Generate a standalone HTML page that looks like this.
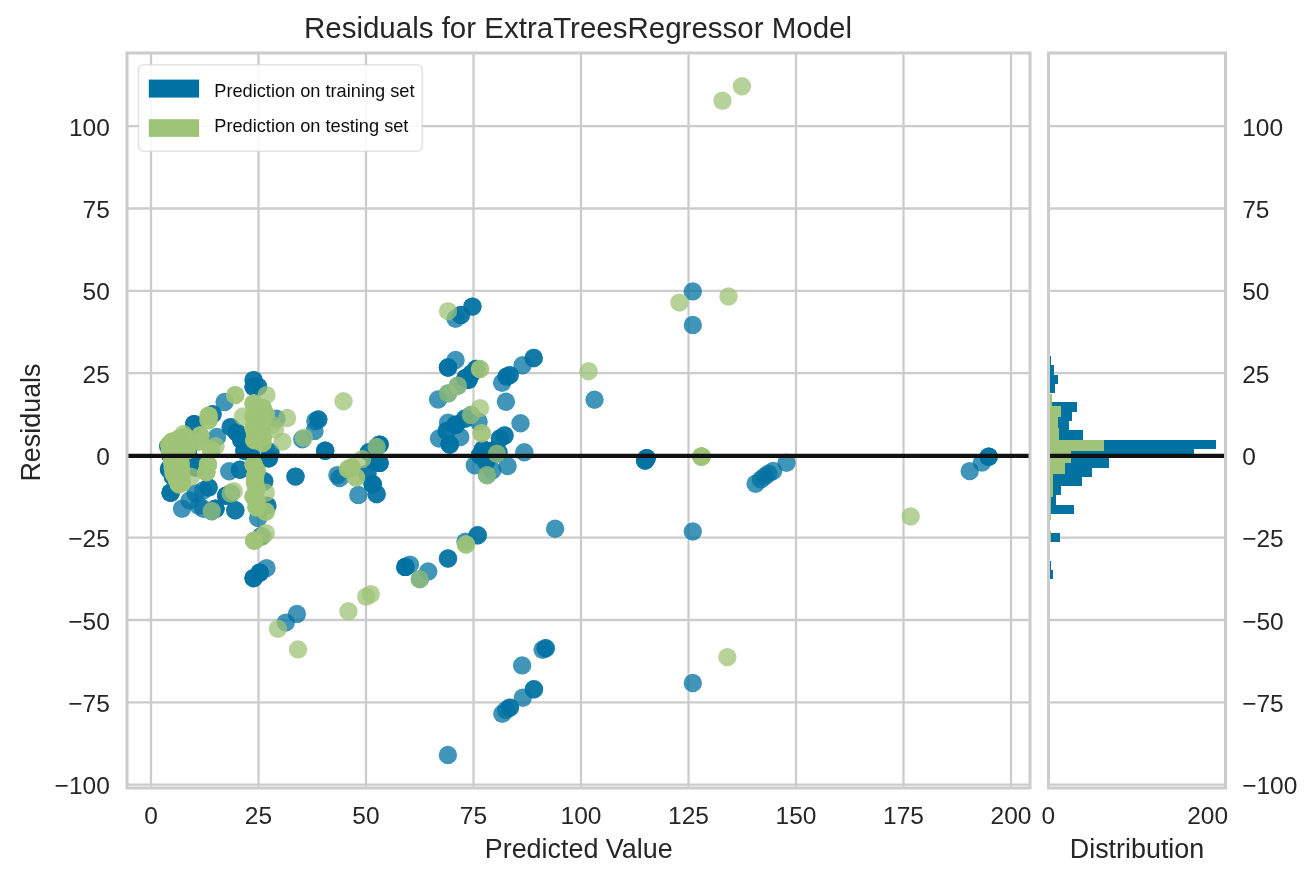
<!DOCTYPE html>
<html lang="en"><head><meta charset="utf-8"><title>Residuals for ExtraTreesRegressor Model</title>
<style>html,body{margin:0;padding:0;background:#fff}svg{display:block}text{font-family:"Liberation Sans",Arial,sans-serif;fill:#262626}</style></head><body>
<svg width="1314" height="886" viewBox="0 0 1314 886">
<rect width="1314" height="886" fill="#fff"/>
<g stroke="#cccccc" stroke-width="2.3" fill="none">
<line x1="151.0" y1="53.0" x2="151.0" y2="788.0"/>
<line x1="258.5" y1="53.0" x2="258.5" y2="788.0"/>
<line x1="366.0" y1="53.0" x2="366.0" y2="788.0"/>
<line x1="473.5" y1="53.0" x2="473.5" y2="788.0"/>
<line x1="581.0" y1="53.0" x2="581.0" y2="788.0"/>
<line x1="688.5" y1="53.0" x2="688.5" y2="788.0"/>
<line x1="796.0" y1="53.0" x2="796.0" y2="788.0"/>
<line x1="903.5" y1="53.0" x2="903.5" y2="788.0"/>
<line x1="1011.0" y1="53.0" x2="1011.0" y2="788.0"/>
<line x1="127.0" y1="784.6" x2="1030.0" y2="784.6"/>
<line x1="1048.5" y1="784.6" x2="1225.5" y2="784.6"/>
<line x1="127.0" y1="702.3" x2="1030.0" y2="702.3"/>
<line x1="1048.5" y1="702.3" x2="1225.5" y2="702.3"/>
<line x1="127.0" y1="620.0" x2="1030.0" y2="620.0"/>
<line x1="1048.5" y1="620.0" x2="1225.5" y2="620.0"/>
<line x1="127.0" y1="537.7" x2="1030.0" y2="537.7"/>
<line x1="1048.5" y1="537.7" x2="1225.5" y2="537.7"/>
<line x1="127.0" y1="455.4" x2="1030.0" y2="455.4"/>
<line x1="1048.5" y1="455.4" x2="1225.5" y2="455.4"/>
<line x1="127.0" y1="373.1" x2="1030.0" y2="373.1"/>
<line x1="1048.5" y1="373.1" x2="1225.5" y2="373.1"/>
<line x1="127.0" y1="290.8" x2="1030.0" y2="290.8"/>
<line x1="1048.5" y1="290.8" x2="1225.5" y2="290.8"/>
<line x1="127.0" y1="208.5" x2="1030.0" y2="208.5"/>
<line x1="1048.5" y1="208.5" x2="1225.5" y2="208.5"/>
<line x1="127.0" y1="126.2" x2="1030.0" y2="126.2"/>
<line x1="1048.5" y1="126.2" x2="1225.5" y2="126.2"/>
</g>
<g fill="#0272a2" fill-opacity="0.75">
<circle cx="253.6" cy="380.1" r="9.2"/>
<circle cx="253.6" cy="380.1" r="9.2"/>
<circle cx="253.6" cy="386.8" r="9.2"/>
<circle cx="253.6" cy="386.8" r="9.2"/>
<circle cx="253.6" cy="386.8" r="9.2"/>
<circle cx="258.1" cy="386.8" r="9.2"/>
<circle cx="258.1" cy="386.8" r="9.2"/>
<circle cx="224.6" cy="402.0" r="9.2"/>
<circle cx="212.5" cy="414.2" r="9.2"/>
<circle cx="212.5" cy="414.2" r="9.2"/>
<circle cx="194.2" cy="424.1" r="9.2"/>
<circle cx="194.2" cy="424.1" r="9.2"/>
<circle cx="194.2" cy="424.1" r="9.2"/>
<circle cx="217.0" cy="437.0" r="9.2"/>
<circle cx="230.7" cy="427.1" r="9.2"/>
<circle cx="230.7" cy="427.1" r="9.2"/>
<circle cx="236.8" cy="432.5" r="9.2"/>
<circle cx="236.8" cy="432.5" r="9.2"/>
<circle cx="236.8" cy="432.5" r="9.2"/>
<circle cx="241.4" cy="440.1" r="9.2"/>
<circle cx="241.4" cy="440.1" r="9.2"/>
<circle cx="241.4" cy="440.1" r="9.2"/>
<circle cx="244.4" cy="450.7" r="9.2"/>
<circle cx="244.4" cy="450.7" r="9.2"/>
<circle cx="244.4" cy="450.7" r="9.2"/>
<circle cx="250.5" cy="452.3" r="9.2"/>
<circle cx="250.5" cy="452.3" r="9.2"/>
<circle cx="250.5" cy="452.3" r="9.2"/>
<circle cx="268.8" cy="458.3" r="9.2"/>
<circle cx="268.8" cy="458.3" r="9.2"/>
<circle cx="268.8" cy="458.3" r="9.2"/>
<circle cx="270.3" cy="452.3" r="9.2"/>
<circle cx="270.3" cy="452.3" r="9.2"/>
<circle cx="276.4" cy="418.7" r="9.2"/>
<circle cx="315.3" cy="421.0" r="9.2"/>
<circle cx="318.3" cy="419.5" r="9.2"/>
<circle cx="318.3" cy="419.5" r="9.2"/>
<circle cx="314.5" cy="430.9" r="9.2"/>
<circle cx="302.3" cy="439.3" r="9.2"/>
<circle cx="325.2" cy="450.7" r="9.2"/>
<circle cx="325.2" cy="450.7" r="9.2"/>
<circle cx="325.2" cy="450.7" r="9.2"/>
<circle cx="295.5" cy="476.6" r="9.2"/>
<circle cx="295.5" cy="476.6" r="9.2"/>
<circle cx="339.6" cy="478.1" r="9.2"/>
<circle cx="337.4" cy="475.1" r="9.2"/>
<circle cx="229.2" cy="471.3" r="9.2"/>
<circle cx="239.9" cy="469.8" r="9.2"/>
<circle cx="239.9" cy="469.8" r="9.2"/>
<circle cx="195.7" cy="467.5" r="9.2"/>
<circle cx="195.7" cy="467.5" r="9.2"/>
<circle cx="195.7" cy="467.5" r="9.2"/>
<circle cx="192.7" cy="461.4" r="9.2"/>
<circle cx="192.7" cy="461.4" r="9.2"/>
<circle cx="192.7" cy="461.4" r="9.2"/>
<circle cx="264.2" cy="481.2" r="9.2"/>
<circle cx="264.2" cy="481.2" r="9.2"/>
<circle cx="172.8" cy="476.6" r="9.2"/>
<circle cx="172.8" cy="476.6" r="9.2"/>
<circle cx="172.8" cy="476.6" r="9.2"/>
<circle cx="169.0" cy="469.0" r="9.2"/>
<circle cx="169.0" cy="469.0" r="9.2"/>
<circle cx="169.0" cy="469.0" r="9.2"/>
<circle cx="168.3" cy="446.2" r="9.2"/>
<circle cx="168.3" cy="446.2" r="9.2"/>
<circle cx="170.6" cy="455.3" r="9.2"/>
<circle cx="170.6" cy="455.3" r="9.2"/>
<circle cx="170.6" cy="455.3" r="9.2"/>
<circle cx="172.8" cy="446.2" r="9.2"/>
<circle cx="172.8" cy="446.2" r="9.2"/>
<circle cx="172.8" cy="446.2" r="9.2"/>
<circle cx="180.5" cy="455.3" r="9.2"/>
<circle cx="180.5" cy="455.3" r="9.2"/>
<circle cx="180.5" cy="455.3" r="9.2"/>
<circle cx="188.1" cy="449.2" r="9.2"/>
<circle cx="188.1" cy="449.2" r="9.2"/>
<circle cx="188.1" cy="449.2" r="9.2"/>
<circle cx="170.6" cy="492.7" r="9.2"/>
<circle cx="170.6" cy="492.7" r="9.2"/>
<circle cx="170.6" cy="492.7" r="9.2"/>
<circle cx="211.7" cy="511.0" r="9.2"/>
<circle cx="211.7" cy="511.0" r="9.2"/>
<circle cx="230.7" cy="493.5" r="9.2"/>
<circle cx="230.7" cy="493.5" r="9.2"/>
<circle cx="182.0" cy="508.7" r="9.2"/>
<circle cx="189.6" cy="500.4" r="9.2"/>
<circle cx="195.7" cy="493.5" r="9.2"/>
<circle cx="203.3" cy="490.5" r="9.2"/>
<circle cx="208.6" cy="487.4" r="9.2"/>
<circle cx="208.6" cy="487.4" r="9.2"/>
<circle cx="198.7" cy="505.7" r="9.2"/>
<circle cx="203.3" cy="508.7" r="9.2"/>
<circle cx="215.5" cy="508.7" r="9.2"/>
<circle cx="215.5" cy="508.7" r="9.2"/>
<circle cx="215.5" cy="508.7" r="9.2"/>
<circle cx="226.2" cy="495.8" r="9.2"/>
<circle cx="226.2" cy="495.8" r="9.2"/>
<circle cx="226.2" cy="495.8" r="9.2"/>
<circle cx="235.3" cy="510.3" r="9.2"/>
<circle cx="235.3" cy="510.3" r="9.2"/>
<circle cx="258.1" cy="517.9" r="9.2"/>
<circle cx="267.3" cy="505.7" r="9.2"/>
<circle cx="267.3" cy="505.7" r="9.2"/>
<circle cx="261.2" cy="536.2" r="9.2"/>
<circle cx="261.2" cy="536.2" r="9.2"/>
<circle cx="266.5" cy="568.1" r="9.2"/>
<circle cx="259.7" cy="572.7" r="9.2"/>
<circle cx="259.7" cy="572.7" r="9.2"/>
<circle cx="259.7" cy="572.7" r="9.2"/>
<circle cx="253.6" cy="578.1" r="9.2"/>
<circle cx="253.6" cy="578.1" r="9.2"/>
<circle cx="253.6" cy="578.1" r="9.2"/>
<circle cx="379.6" cy="444.6" r="9.2"/>
<circle cx="379.6" cy="444.6" r="9.2"/>
<circle cx="379.6" cy="444.6" r="9.2"/>
<circle cx="368.9" cy="452.3" r="9.2"/>
<circle cx="368.9" cy="452.3" r="9.2"/>
<circle cx="379.6" cy="462.9" r="9.2"/>
<circle cx="379.6" cy="462.9" r="9.2"/>
<circle cx="379.6" cy="462.9" r="9.2"/>
<circle cx="375.0" cy="461.4" r="9.2"/>
<circle cx="375.0" cy="461.4" r="9.2"/>
<circle cx="375.0" cy="461.4" r="9.2"/>
<circle cx="372.7" cy="484.2" r="9.2"/>
<circle cx="372.7" cy="484.2" r="9.2"/>
<circle cx="372.7" cy="484.2" r="9.2"/>
<circle cx="376.6" cy="494.1" r="9.2"/>
<circle cx="376.6" cy="494.1" r="9.2"/>
<circle cx="358.3" cy="494.9" r="9.2"/>
<circle cx="367.4" cy="473.6" r="9.2"/>
<circle cx="367.4" cy="473.6" r="9.2"/>
<circle cx="448.1" cy="422.6" r="9.2"/>
<circle cx="439.0" cy="438.5" r="9.2"/>
<circle cx="460.3" cy="437.0" r="9.2"/>
<circle cx="455.8" cy="424.8" r="9.2"/>
<circle cx="455.8" cy="424.8" r="9.2"/>
<circle cx="455.8" cy="424.8" r="9.2"/>
<circle cx="449.7" cy="444.6" r="9.2"/>
<circle cx="449.7" cy="444.6" r="9.2"/>
<circle cx="449.7" cy="444.6" r="9.2"/>
<circle cx="446.6" cy="430.9" r="9.2"/>
<circle cx="446.6" cy="430.9" r="9.2"/>
<circle cx="464.9" cy="418.7" r="9.2"/>
<circle cx="464.9" cy="418.7" r="9.2"/>
<circle cx="478.6" cy="421.8" r="9.2"/>
<circle cx="520.5" cy="423.3" r="9.2"/>
<circle cx="504.5" cy="435.5" r="9.2"/>
<circle cx="504.5" cy="435.5" r="9.2"/>
<circle cx="499.9" cy="438.5" r="9.2"/>
<circle cx="499.9" cy="438.5" r="9.2"/>
<circle cx="524.3" cy="452.3" r="9.2"/>
<circle cx="483.2" cy="449.2" r="9.2"/>
<circle cx="483.2" cy="449.2" r="9.2"/>
<circle cx="483.2" cy="449.2" r="9.2"/>
<circle cx="480.1" cy="455.3" r="9.2"/>
<circle cx="480.1" cy="455.3" r="9.2"/>
<circle cx="480.1" cy="455.3" r="9.2"/>
<circle cx="486.2" cy="461.4" r="9.2"/>
<circle cx="486.2" cy="461.4" r="9.2"/>
<circle cx="486.2" cy="461.4" r="9.2"/>
<circle cx="492.3" cy="450.7" r="9.2"/>
<circle cx="492.3" cy="450.7" r="9.2"/>
<circle cx="492.3" cy="450.7" r="9.2"/>
<circle cx="498.4" cy="452.3" r="9.2"/>
<circle cx="498.4" cy="452.3" r="9.2"/>
<circle cx="474.8" cy="465.2" r="9.2"/>
<circle cx="492.3" cy="470.5" r="9.2"/>
<circle cx="507.6" cy="466.0" r="9.2"/>
<circle cx="471.0" cy="414.9" r="9.2"/>
<circle cx="496.9" cy="453.8" r="9.2"/>
<circle cx="487.0" cy="475.1" r="9.2"/>
<circle cx="376.6" cy="446.9" r="9.2"/>
<circle cx="472.4" cy="306.6" r="9.2"/>
<circle cx="472.4" cy="306.6" r="9.2"/>
<circle cx="460.9" cy="314.9" r="9.2"/>
<circle cx="460.9" cy="314.9" r="9.2"/>
<circle cx="455.6" cy="318.7" r="9.2"/>
<circle cx="455.6" cy="359.9" r="9.2"/>
<circle cx="448.0" cy="367.5" r="9.2"/>
<circle cx="448.0" cy="367.5" r="9.2"/>
<circle cx="448.0" cy="367.5" r="9.2"/>
<circle cx="465.5" cy="378.1" r="9.2"/>
<circle cx="465.5" cy="378.1" r="9.2"/>
<circle cx="465.5" cy="378.1" r="9.2"/>
<circle cx="471.6" cy="373.6" r="9.2"/>
<circle cx="471.6" cy="373.6" r="9.2"/>
<circle cx="471.6" cy="373.6" r="9.2"/>
<circle cx="476.2" cy="369.0" r="9.2"/>
<circle cx="476.2" cy="369.0" r="9.2"/>
<circle cx="476.2" cy="369.0" r="9.2"/>
<circle cx="468.5" cy="379.7" r="9.2"/>
<circle cx="468.5" cy="379.7" r="9.2"/>
<circle cx="468.5" cy="379.7" r="9.2"/>
<circle cx="502.1" cy="382.7" r="9.2"/>
<circle cx="506.6" cy="376.6" r="9.2"/>
<circle cx="506.6" cy="376.6" r="9.2"/>
<circle cx="509.7" cy="375.1" r="9.2"/>
<circle cx="509.7" cy="375.1" r="9.2"/>
<circle cx="522.6" cy="365.2" r="9.2"/>
<circle cx="533.7" cy="358.0" r="9.2"/>
<circle cx="533.7" cy="358.0" r="9.2"/>
<circle cx="438.1" cy="399.5" r="9.2"/>
<circle cx="505.9" cy="401.8" r="9.2"/>
<circle cx="457.9" cy="385.8" r="9.2"/>
<circle cx="448.0" cy="393.4" r="9.2"/>
<circle cx="594.5" cy="399.7" r="9.2"/>
<circle cx="646.6" cy="458.3" r="9.2"/>
<circle cx="646.6" cy="458.3" r="9.2"/>
<circle cx="646.6" cy="458.3" r="9.2"/>
<circle cx="645.1" cy="460.6" r="9.2"/>
<circle cx="645.1" cy="460.6" r="9.2"/>
<circle cx="645.1" cy="460.6" r="9.2"/>
<circle cx="692.8" cy="291.4" r="9.2"/>
<circle cx="692.8" cy="324.9" r="9.2"/>
<circle cx="692.8" cy="531.5" r="9.2"/>
<circle cx="755.6" cy="483.7" r="9.2"/>
<circle cx="760.9" cy="479.4" r="9.2"/>
<circle cx="764.7" cy="476.4" r="9.2"/>
<circle cx="768.5" cy="473.6" r="9.2"/>
<circle cx="773.1" cy="471.0" r="9.2"/>
<circle cx="786.5" cy="462.7" r="9.2"/>
<circle cx="969.7" cy="471.1" r="9.2"/>
<circle cx="982.0" cy="462.5" r="9.2"/>
<circle cx="988.7" cy="456.7" r="9.2"/>
<circle cx="988.7" cy="456.7" r="9.2"/>
<circle cx="988.7" cy="456.7" r="9.2"/>
<circle cx="555.1" cy="528.8" r="9.2"/>
<circle cx="477.7" cy="535.2" r="9.2"/>
<circle cx="477.7" cy="535.2" r="9.2"/>
<circle cx="465.5" cy="541.8" r="9.2"/>
<circle cx="448.0" cy="558.5" r="9.2"/>
<circle cx="448.0" cy="558.5" r="9.2"/>
<circle cx="428.2" cy="571.5" r="9.2"/>
<circle cx="409.9" cy="564.6" r="9.2"/>
<circle cx="405.3" cy="566.9" r="9.2"/>
<circle cx="405.3" cy="566.9" r="9.2"/>
<circle cx="405.3" cy="566.9" r="9.2"/>
<circle cx="419.8" cy="579.1" r="9.2"/>
<circle cx="296.9" cy="613.9" r="9.2"/>
<circle cx="285.8" cy="622.6" r="9.2"/>
<circle cx="545.7" cy="648.2" r="9.2"/>
<circle cx="545.7" cy="648.2" r="9.2"/>
<circle cx="542.6" cy="649.7" r="9.2"/>
<circle cx="522.1" cy="665.4" r="9.2"/>
<circle cx="533.9" cy="689.3" r="9.2"/>
<circle cx="533.9" cy="689.3" r="9.2"/>
<circle cx="522.8" cy="697.7" r="9.2"/>
<circle cx="509.9" cy="707.6" r="9.2"/>
<circle cx="509.9" cy="707.6" r="9.2"/>
<circle cx="506.1" cy="709.9" r="9.2"/>
<circle cx="502.3" cy="713.7" r="9.2"/>
<circle cx="447.9" cy="755.0" r="9.2"/>
<circle cx="692.8" cy="683.0" r="9.2"/>
</g>
<g fill="#9fc377" fill-opacity="0.75">
<circle cx="235.3" cy="395.1" r="9.2"/>
<circle cx="235.3" cy="395.1" r="9.2"/>
<circle cx="266.5" cy="395.1" r="9.2"/>
<circle cx="208.6" cy="415.7" r="9.2"/>
<circle cx="208.6" cy="415.7" r="9.2"/>
<circle cx="208.6" cy="415.7" r="9.2"/>
<circle cx="208.6" cy="420.3" r="9.2"/>
<circle cx="208.6" cy="420.3" r="9.2"/>
<circle cx="242.9" cy="416.5" r="9.2"/>
<circle cx="287.1" cy="418.0" r="9.2"/>
<circle cx="343.5" cy="401.2" r="9.2"/>
<circle cx="282.5" cy="441.6" r="9.2"/>
<circle cx="303.8" cy="437.8" r="9.2"/>
<circle cx="274.9" cy="429.4" r="9.2"/>
<circle cx="271.9" cy="424.8" r="9.2"/>
<circle cx="348.0" cy="469.0" r="9.2"/>
<circle cx="348.0" cy="469.0" r="9.2"/>
<circle cx="253.6" cy="403.5" r="9.2"/>
<circle cx="253.6" cy="403.5" r="9.2"/>
<circle cx="253.6" cy="403.5" r="9.2"/>
<circle cx="256.6" cy="409.6" r="9.2"/>
<circle cx="256.6" cy="409.6" r="9.2"/>
<circle cx="256.6" cy="409.6" r="9.2"/>
<circle cx="259.7" cy="415.7" r="9.2"/>
<circle cx="259.7" cy="415.7" r="9.2"/>
<circle cx="259.7" cy="415.7" r="9.2"/>
<circle cx="256.6" cy="421.8" r="9.2"/>
<circle cx="256.6" cy="421.8" r="9.2"/>
<circle cx="256.6" cy="421.8" r="9.2"/>
<circle cx="258.1" cy="427.9" r="9.2"/>
<circle cx="258.1" cy="427.9" r="9.2"/>
<circle cx="258.1" cy="427.9" r="9.2"/>
<circle cx="255.1" cy="434.0" r="9.2"/>
<circle cx="255.1" cy="434.0" r="9.2"/>
<circle cx="255.1" cy="434.0" r="9.2"/>
<circle cx="256.6" cy="440.1" r="9.2"/>
<circle cx="256.6" cy="440.1" r="9.2"/>
<circle cx="256.6" cy="440.1" r="9.2"/>
<circle cx="262.7" cy="443.1" r="9.2"/>
<circle cx="262.7" cy="443.1" r="9.2"/>
<circle cx="265.8" cy="414.2" r="9.2"/>
<circle cx="265.8" cy="414.2" r="9.2"/>
<circle cx="253.6" cy="464.4" r="9.2"/>
<circle cx="253.6" cy="464.4" r="9.2"/>
<circle cx="253.6" cy="464.4" r="9.2"/>
<circle cx="256.6" cy="470.5" r="9.2"/>
<circle cx="256.6" cy="470.5" r="9.2"/>
<circle cx="256.6" cy="470.5" r="9.2"/>
<circle cx="255.1" cy="476.6" r="9.2"/>
<circle cx="255.1" cy="476.6" r="9.2"/>
<circle cx="255.1" cy="476.6" r="9.2"/>
<circle cx="255.1" cy="482.7" r="9.2"/>
<circle cx="255.1" cy="482.7" r="9.2"/>
<circle cx="255.1" cy="482.7" r="9.2"/>
<circle cx="256.6" cy="488.8" r="9.2"/>
<circle cx="256.6" cy="488.8" r="9.2"/>
<circle cx="256.6" cy="488.8" r="9.2"/>
<circle cx="253.6" cy="496.4" r="9.2"/>
<circle cx="253.6" cy="496.4" r="9.2"/>
<circle cx="253.6" cy="496.4" r="9.2"/>
<circle cx="256.6" cy="501.0" r="9.2"/>
<circle cx="256.6" cy="501.0" r="9.2"/>
<circle cx="256.6" cy="501.0" r="9.2"/>
<circle cx="174.4" cy="443.1" r="9.2"/>
<circle cx="174.4" cy="443.1" r="9.2"/>
<circle cx="174.4" cy="443.1" r="9.2"/>
<circle cx="169.8" cy="446.2" r="9.2"/>
<circle cx="169.8" cy="446.2" r="9.2"/>
<circle cx="169.8" cy="446.2" r="9.2"/>
<circle cx="180.5" cy="438.5" r="9.2"/>
<circle cx="180.5" cy="438.5" r="9.2"/>
<circle cx="180.5" cy="438.5" r="9.2"/>
<circle cx="183.5" cy="434.0" r="9.2"/>
<circle cx="200.3" cy="435.5" r="9.2"/>
<circle cx="200.3" cy="435.5" r="9.2"/>
<circle cx="200.3" cy="435.5" r="9.2"/>
<circle cx="198.7" cy="441.6" r="9.2"/>
<circle cx="198.7" cy="441.6" r="9.2"/>
<circle cx="198.7" cy="441.6" r="9.2"/>
<circle cx="215.5" cy="446.2" r="9.2"/>
<circle cx="210.9" cy="449.2" r="9.2"/>
<circle cx="210.9" cy="449.2" r="9.2"/>
<circle cx="174.4" cy="464.4" r="9.2"/>
<circle cx="174.4" cy="464.4" r="9.2"/>
<circle cx="174.4" cy="464.4" r="9.2"/>
<circle cx="177.4" cy="470.5" r="9.2"/>
<circle cx="177.4" cy="470.5" r="9.2"/>
<circle cx="177.4" cy="470.5" r="9.2"/>
<circle cx="176.7" cy="479.7" r="9.2"/>
<circle cx="176.7" cy="479.7" r="9.2"/>
<circle cx="176.7" cy="479.7" r="9.2"/>
<circle cx="182.0" cy="482.7" r="9.2"/>
<circle cx="182.0" cy="482.7" r="9.2"/>
<circle cx="182.0" cy="482.7" r="9.2"/>
<circle cx="191.1" cy="476.6" r="9.2"/>
<circle cx="207.9" cy="464.4" r="9.2"/>
<circle cx="207.9" cy="464.4" r="9.2"/>
<circle cx="207.9" cy="464.4" r="9.2"/>
<circle cx="206.4" cy="472.1" r="9.2"/>
<circle cx="206.4" cy="472.1" r="9.2"/>
<circle cx="206.4" cy="472.1" r="9.2"/>
<circle cx="169.5" cy="444.6" r="9.2"/>
<circle cx="169.5" cy="444.6" r="9.2"/>
<circle cx="169.5" cy="444.6" r="9.2"/>
<circle cx="172.1" cy="441.6" r="9.2"/>
<circle cx="172.1" cy="441.6" r="9.2"/>
<circle cx="172.1" cy="441.6" r="9.2"/>
<circle cx="178.2" cy="439.3" r="9.2"/>
<circle cx="178.2" cy="439.3" r="9.2"/>
<circle cx="178.2" cy="439.3" r="9.2"/>
<circle cx="185.0" cy="437.0" r="9.2"/>
<circle cx="185.0" cy="437.0" r="9.2"/>
<circle cx="185.0" cy="437.0" r="9.2"/>
<circle cx="188.1" cy="443.1" r="9.2"/>
<circle cx="188.1" cy="443.1" r="9.2"/>
<circle cx="188.1" cy="443.1" r="9.2"/>
<circle cx="180.5" cy="446.2" r="9.2"/>
<circle cx="180.5" cy="446.2" r="9.2"/>
<circle cx="180.5" cy="446.2" r="9.2"/>
<circle cx="169.8" cy="450.7" r="9.2"/>
<circle cx="169.8" cy="450.7" r="9.2"/>
<circle cx="169.8" cy="450.7" r="9.2"/>
<circle cx="186.6" cy="450.7" r="9.2"/>
<circle cx="186.6" cy="450.7" r="9.2"/>
<circle cx="186.6" cy="450.7" r="9.2"/>
<circle cx="177.4" cy="450.7" r="9.2"/>
<circle cx="177.4" cy="450.7" r="9.2"/>
<circle cx="177.4" cy="450.7" r="9.2"/>
<circle cx="172.1" cy="461.4" r="9.2"/>
<circle cx="172.1" cy="461.4" r="9.2"/>
<circle cx="172.1" cy="461.4" r="9.2"/>
<circle cx="180.5" cy="462.9" r="9.2"/>
<circle cx="180.5" cy="462.9" r="9.2"/>
<circle cx="180.5" cy="462.9" r="9.2"/>
<circle cx="181.2" cy="469.0" r="9.2"/>
<circle cx="181.2" cy="469.0" r="9.2"/>
<circle cx="181.2" cy="469.0" r="9.2"/>
<circle cx="173.6" cy="473.6" r="9.2"/>
<circle cx="173.6" cy="473.6" r="9.2"/>
<circle cx="173.6" cy="473.6" r="9.2"/>
<circle cx="181.2" cy="476.6" r="9.2"/>
<circle cx="181.2" cy="476.6" r="9.2"/>
<circle cx="181.2" cy="476.6" r="9.2"/>
<circle cx="178.9" cy="484.2" r="9.2"/>
<circle cx="178.9" cy="484.2" r="9.2"/>
<circle cx="178.9" cy="484.2" r="9.2"/>
<circle cx="172.8" cy="467.5" r="9.2"/>
<circle cx="172.8" cy="467.5" r="9.2"/>
<circle cx="172.8" cy="467.5" r="9.2"/>
<circle cx="262.7" cy="408.1" r="9.2"/>
<circle cx="262.7" cy="408.1" r="9.2"/>
<circle cx="262.7" cy="408.1" r="9.2"/>
<circle cx="262.7" cy="420.3" r="9.2"/>
<circle cx="262.7" cy="420.3" r="9.2"/>
<circle cx="262.7" cy="420.3" r="9.2"/>
<circle cx="262.0" cy="430.9" r="9.2"/>
<circle cx="262.0" cy="430.9" r="9.2"/>
<circle cx="262.0" cy="430.9" r="9.2"/>
<circle cx="253.6" cy="415.7" r="9.2"/>
<circle cx="253.6" cy="415.7" r="9.2"/>
<circle cx="253.6" cy="415.7" r="9.2"/>
<circle cx="253.6" cy="427.9" r="9.2"/>
<circle cx="253.6" cy="427.9" r="9.2"/>
<circle cx="253.6" cy="427.9" r="9.2"/>
<circle cx="254.3" cy="440.1" r="9.2"/>
<circle cx="254.3" cy="440.1" r="9.2"/>
<circle cx="254.3" cy="440.1" r="9.2"/>
<circle cx="262.7" cy="437.0" r="9.2"/>
<circle cx="262.7" cy="437.0" r="9.2"/>
<circle cx="262.7" cy="437.0" r="9.2"/>
<circle cx="211.7" cy="511.0" r="9.2"/>
<circle cx="230.7" cy="493.5" r="9.2"/>
<circle cx="233.8" cy="491.2" r="9.2"/>
<circle cx="256.6" cy="507.2" r="9.2"/>
<circle cx="256.6" cy="507.2" r="9.2"/>
<circle cx="256.6" cy="507.2" r="9.2"/>
<circle cx="265.8" cy="492.7" r="9.2"/>
<circle cx="265.8" cy="511.8" r="9.2"/>
<circle cx="265.8" cy="511.8" r="9.2"/>
<circle cx="265.8" cy="533.1" r="9.2"/>
<circle cx="262.7" cy="536.2" r="9.2"/>
<circle cx="254.3" cy="540.7" r="9.2"/>
<circle cx="254.3" cy="540.7" r="9.2"/>
<circle cx="254.3" cy="540.7" r="9.2"/>
<circle cx="376.6" cy="446.9" r="9.2"/>
<circle cx="362.1" cy="459.1" r="9.2"/>
<circle cx="351.4" cy="467.5" r="9.2"/>
<circle cx="351.4" cy="467.5" r="9.2"/>
<circle cx="351.4" cy="467.5" r="9.2"/>
<circle cx="356.0" cy="477.4" r="9.2"/>
<circle cx="356.0" cy="477.4" r="9.2"/>
<circle cx="480.1" cy="408.1" r="9.2"/>
<circle cx="471.0" cy="414.9" r="9.2"/>
<circle cx="481.7" cy="433.2" r="9.2"/>
<circle cx="481.7" cy="433.2" r="9.2"/>
<circle cx="496.9" cy="453.8" r="9.2"/>
<circle cx="487.0" cy="475.1" r="9.2"/>
<circle cx="448.0" cy="311.1" r="9.2"/>
<circle cx="480.0" cy="369.0" r="9.2"/>
<circle cx="480.0" cy="369.0" r="9.2"/>
<circle cx="457.9" cy="385.8" r="9.2"/>
<circle cx="448.0" cy="393.4" r="9.2"/>
<circle cx="588.6" cy="371.3" r="9.2"/>
<circle cx="701.5" cy="456.5" r="9.2"/>
<circle cx="701.5" cy="456.5" r="9.2"/>
<circle cx="701.5" cy="456.5" r="9.2"/>
<circle cx="722.4" cy="100.8" r="9.2"/>
<circle cx="741.9" cy="86.2" r="9.2"/>
<circle cx="679.4" cy="302.6" r="9.2"/>
<circle cx="728.5" cy="296.5" r="9.2"/>
<circle cx="701.5" cy="456.6" r="9.2"/>
<circle cx="701.5" cy="456.6" r="9.2"/>
<circle cx="701.5" cy="456.6" r="9.2"/>
<circle cx="910.7" cy="516.5" r="9.2"/>
<circle cx="466.0" cy="544.5" r="9.2"/>
<circle cx="466.0" cy="544.5" r="9.2"/>
<circle cx="419.8" cy="579.1" r="9.2"/>
<circle cx="277.9" cy="628.7" r="9.2"/>
<circle cx="298.0" cy="649.4" r="9.2"/>
<circle cx="348.4" cy="611.3" r="9.2"/>
<circle cx="366.2" cy="596.7" r="9.2"/>
<circle cx="370.8" cy="594.1" r="9.2"/>
<circle cx="727.4" cy="657.1" r="9.2"/>
</g>
<g fill="#0272a2" shape-rendering="crispEdges">
<rect x="1048.5" y="355.90" width="2.5" height="9.35"/>
<rect x="1048.5" y="365.20" width="5.5" height="9.35"/>
<rect x="1048.5" y="374.50" width="9.0" height="9.35"/>
<rect x="1048.5" y="383.80" width="6.4" height="9.35"/>
<rect x="1048.5" y="402.40" width="28.5" height="9.35"/>
<rect x="1048.5" y="411.70" width="23.8" height="9.35"/>
<rect x="1048.5" y="421.00" width="20.1" height="9.35"/>
<rect x="1048.5" y="430.30" width="34.9" height="9.35"/>
<rect x="1048.5" y="439.60" width="167.9" height="9.35"/>
<rect x="1048.5" y="448.90" width="145.3" height="9.35"/>
<rect x="1048.5" y="458.20" width="60.5" height="9.35"/>
<rect x="1048.5" y="467.50" width="43.7" height="9.35"/>
<rect x="1048.5" y="476.80" width="33.4" height="9.35"/>
<rect x="1048.5" y="486.10" width="12.8" height="9.35"/>
<rect x="1048.5" y="495.40" width="7.5" height="9.35"/>
<rect x="1048.5" y="504.70" width="25.0" height="9.35"/>
<rect x="1048.5" y="532.60" width="11.8" height="9.35"/>
<rect x="1048.5" y="560.50" width="2.5" height="9.35"/>
<rect x="1048.5" y="569.80" width="4.3" height="9.35"/>
</g>
<g fill="#9fc377" shape-rendering="crispEdges">
<rect x="1048.5" y="394.20" width="3.4" height="11.45"/>
<rect x="1048.5" y="405.60" width="12.8" height="11.45"/>
<rect x="1048.5" y="417.00" width="9.5" height="11.45"/>
<rect x="1048.5" y="428.40" width="10.5" height="11.45"/>
<rect x="1048.5" y="439.80" width="55.5" height="11.45"/>
<rect x="1048.5" y="451.20" width="22.7" height="11.45"/>
<rect x="1048.5" y="462.60" width="16.6" height="11.45"/>
<rect x="1048.5" y="474.00" width="4.0" height="11.45"/>
<rect x="1048.5" y="485.40" width="4.0" height="11.45"/>
<rect x="1048.5" y="496.80" width="2.9" height="11.45"/>
<rect x="1048.5" y="508.20" width="2.5" height="11.45"/>
<rect x="1048.5" y="531.00" width="2.1" height="11.45"/>
</g>
<g stroke="#111111" stroke-width="4.2">
<line x1="127.0" y1="455.9" x2="1030.0" y2="455.9"/>
<line x1="1048.5" y1="455.9" x2="1224.0" y2="455.9"/>
</g>
<g stroke="#cccccc" stroke-width="3" fill="none">
<rect x="127.0" y="53.0" width="903.0" height="735.0"/>
<rect x="1048.5" y="53.0" width="177.0" height="735.0"/>
</g>
<rect x="138.5" y="64.7" width="283.8" height="86.5" rx="5" ry="5" fill="#ffffff" fill-opacity="0.87" stroke="#cccccc" stroke-opacity="0.55" stroke-width="1.6"/>
<rect x="148.8" y="79.6" width="50.3" height="18" fill="#0272a2"/>
<rect x="148.8" y="119.2" width="50.3" height="17.7" fill="#9fc377"/>
<g font-size="18.2" style="fill:#0d0d0d"><text x="214.3" y="96.9" style="fill:#0d0d0d">Prediction on training set</text><text x="214.3" y="132.2" style="fill:#0d0d0d">Prediction on testing set</text></g>
<text x="578" y="37.6" font-size="29.5" text-anchor="middle">Residuals for ExtraTreesRegressor Model</text>
<text x="578.7" y="857.6" font-size="26.9" text-anchor="middle">Predicted Value</text>
<text x="1137" y="857.6" font-size="26.9" text-anchor="middle">Distribution</text>
<text transform="translate(40,422.5) rotate(-90)" font-size="26.9" text-anchor="middle">Residuals</text>
<g font-size="24.5">
<text x="151.0" y="823.8" text-anchor="middle">0</text>
<text x="258.5" y="823.8" text-anchor="middle">25</text>
<text x="366.0" y="823.8" text-anchor="middle">50</text>
<text x="473.5" y="823.8" text-anchor="middle">75</text>
<text x="581.0" y="823.8" text-anchor="middle">100</text>
<text x="688.5" y="823.8" text-anchor="middle">125</text>
<text x="796.0" y="823.8" text-anchor="middle">150</text>
<text x="903.5" y="823.8" text-anchor="middle">175</text>
<text x="1011.0" y="823.8" text-anchor="middle">200</text>
<text x="1048.2" y="823.8" text-anchor="middle">0</text>
<text x="1207.6" y="823.8" text-anchor="middle">200</text>
<text x="109.8" y="794.1" text-anchor="end">−100</text>
<text x="1242.2" y="794.1">−100</text>
<text x="109.8" y="711.8" text-anchor="end">−75</text>
<text x="1242.2" y="711.8">−75</text>
<text x="109.8" y="629.5" text-anchor="end">−50</text>
<text x="1242.2" y="629.5">−50</text>
<text x="109.8" y="547.2" text-anchor="end">−25</text>
<text x="1242.2" y="547.2">−25</text>
<text x="109.8" y="464.9" text-anchor="end">0</text>
<text x="1242.2" y="464.9">0</text>
<text x="109.8" y="382.6" text-anchor="end">25</text>
<text x="1242.2" y="382.6">25</text>
<text x="109.8" y="300.3" text-anchor="end">50</text>
<text x="1242.2" y="300.3">50</text>
<text x="109.8" y="218.0" text-anchor="end">75</text>
<text x="1242.2" y="218.0">75</text>
<text x="109.8" y="135.7" text-anchor="end">100</text>
<text x="1242.2" y="135.7">100</text>
</g>
</svg></body></html>
